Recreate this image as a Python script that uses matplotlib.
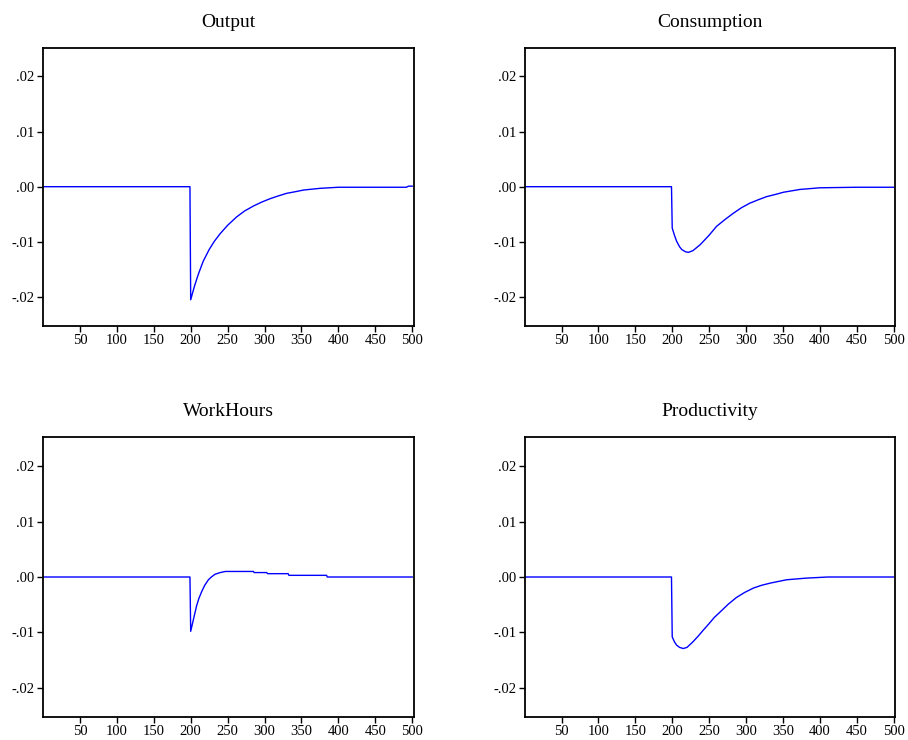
import matplotlib
matplotlib.use("Agg")
import matplotlib.pyplot as plt

plt.rcParams['font.family'] = ['Liberation Serif', 'DejaVu Serif']
plt.rcParams['axes.unicode_minus'] = False

titles = ['Output', 'Consumption', 'WorkHours', 'Productivity']

# periods / responses
output_t = [1, 199, 200, 205, 210, 217, 225, 232, 240, 250, 262, 273, 285, 296, 307, 318, 330,
            342, 353, 375, 400, 450, 492, 495, 500]
output_v = [0, 0, -0.0205, -0.0181, -0.0160, -0.0135, -0.0114, -0.0099, -0.0085, -0.0070, -0.0055,
            -0.0044, -0.0035, -0.0028, -0.0022, -0.0017, -0.0012, -0.0009, -0.0006, -0.0003,
            -0.0001, -0.0001, -0.0001, 0.0001, 0.0001]

cons_t = [1, 199, 200, 203, 206, 210, 213, 218, 222, 228, 238, 250, 260, 272, 283, 294, 305, 316,
          328, 340, 351, 373, 400, 450, 500]
cons_v = [0, 0, -0.0075, -0.0088, -0.0099, -0.0109, -0.0114, -0.0118, -0.0119, -0.0116, -0.0105,
          -0.0088, -0.0072, -0.0059, -0.0048, -0.0038, -0.0030, -0.0024, -0.0018, -0.0014, -0.0010,
          -0.0005, -0.0002, -0.0001, -0.0001]

hours_t = [1, 199, 200, 204, 208, 211, 215, 219, 224, 228, 233, 240, 247, 260, 285, 286, 303, 304,
           332, 333, 384, 385, 500]
hours_v = [0, 0, -0.0098, -0.0075, -0.0052, -0.0039, -0.0026, -0.0015, -0.0005, 0.0000, 0.0005,
           0.0008, 0.0010, 0.0010, 0.0010, 0.0008, 0.0008, 0.0006, 0.0006, 0.0003, 0.0003, 0.0, 0.0]

prod_t = [1, 199, 200, 203, 206, 210, 215, 220, 228, 235, 242, 250, 257, 265, 276, 287, 298, 310,
          321, 333, 355, 382, 411, 500]
prod_v = [0, 0, -0.0108, -0.0117, -0.0123, -0.0127, -0.0129, -0.0127, -0.0117, -0.0107, -0.0096,
          -0.0084, -0.0073, -0.0063, -0.0049, -0.0037, -0.0028, -0.0020, -0.0015, -0.0011,
          -0.0005, -0.0002, 0.0, 0.0]

series = [(output_t, output_v), (cons_t, cons_v), (hours_t, hours_v), (prod_t, prod_v)]

xticks = [50, 100, 150, 200, 250, 300, 350, 400, 450, 500]
yticks = [-0.02, -0.01, 0.0, 0.01, 0.02]
ylabels = ['-.02', '-.01', '.00', '.01', '.02']

fig = plt.figure(figsize=(9.08, 7.40), dpi=100)

boxes = [
    [43 / 908, 1 - 325.7 / 740, 370.7 / 908, 278 / 740],
    [524.7 / 908, 1 - 325.7 / 740, 370.3 / 908, 278 / 740],
    [43 / 908, 1 - 716.7 / 740, 370.7 / 908, 279.4 / 740],
    [524.7 / 908, 1 - 716.7 / 740, 370.3 / 908, 279.4 / 740],
]

for box, title, (t, v) in zip(boxes, titles, series):
    ax = fig.add_axes(box)
    ax.plot(t, v, color='#0000ff', lw=1.0)
    ax.set_xlim(0, 502)
    ax.set_ylim(-0.0252, 0.0252)
    ax.set_xticks(xticks)
    ax.set_xticklabels([str(x) for x in xticks])
    ax.set_yticks(yticks)
    ax.set_yticklabels(ylabels)
    ax.tick_params(direction='out', length=4, width=1, pad=2, labelsize=10.5, colors='black')
    for s in ax.spines.values():
        s.set_linewidth(1.3)
    ax.set_title(title, fontsize=14, pad=15)

fig.savefig('out.png', dpi=100)
